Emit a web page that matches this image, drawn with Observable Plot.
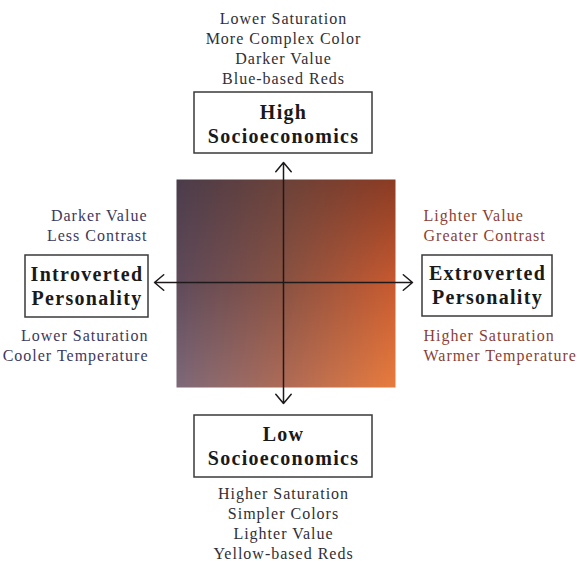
<!DOCTYPE html>
<html>
<head>
<meta charset="utf-8">
<script src="https://cdn.jsdelivr.net/npm/d3@7"></script>
<script src="https://cdn.jsdelivr.net/npm/@observablehq/plot@0.6"></script>
<style>
  html, body { margin: 0; padding: 0; background: #fff; }
  #chart svg { display: block; }
  #chart g[font-weight="bold"] text { letter-spacing: 1.3px; }
  #chart g[font-size="16"] text { letter-spacing: 1px; }
</style>
</head>
<body>
<div id="chart"></div>
<script>
// ---- data ----
const topLines = ["Lower Saturation", "More Complex Color", "Darker Value", "Blue-based Reds"];
const bottomLines = ["Higher Saturation", "Simpler Colors", "Lighter Value", "Yellow-based Reds"];
const leftUpper = ["Darker Value", "Less Contrast"];
const leftLower = ["Lower Saturation", "Cooler Temperature"];
const rightUpper = ["Lighter Value", "Greater Contrast"];
const rightLower = ["Higher Saturation", "Warmer Temperature"];
const boxLabels = ["High\nSocioeconomics", "Low\nSocioeconomics", "Introverted\nPersonality", "Extroverted\nPersonality"];
const directions = ["up", "down", "left", "right"];

// ---- layout (diagram canvas in pixel-like units) ----
const W = 577, H = 561;
const cx = 283, cy = 282;
const sq = {x1: 176, x2: 395, y1: 179, y2: 387};
const tips = {up: [cx, 162], down: [cx, 403], left: [154, cy], right: [412, cy]};
const boxes = [
  {x1: 194, x2: 372, y1: 92, y2: 153, dy: 0},
  {x1: 194, x2: 372, y1: 415, y2: 477, dy: -1},
  {x1: 25, x2: 148, y1: 255, y2: 317, dy: -1.5},
  {x1: 422, x2: 552, y1: 255, y2: 316, dy: -1.5}
];
// gradient colour grid (style): rows top→bottom, columns left→right
const grid = [
  ["#4b3c4b", "#6c4239", "#8c3b23"],
  ["#5f4b5b", "#8a5242", "#c85a30"],
  ["#7d6979", "#b06b56", "#e87c3e"]
];
const mix = d3.interpolateRgb;
const clamp = t => Math.max(0, Math.min(1, t));
const sampleRow = (row, u) => u < 0.5 ? mix(row[0], row[1])(u * 2) : mix(row[1], row[2])((u - 0.5) * 2);
const gradFill = (x, y) => {
  const u = clamp((x - sq.x1) / (sq.x2 - sq.x1));
  const v = clamp((y - sq.y1) / (sq.y2 - sq.y1));
  const cols = grid.map(r => sampleRow(r, u));
  return v < 0.5 ? mix(cols[0], cols[1])(v * 2) : mix(cols[1], cols[2])((v - 0.5) * 2);
};

const serif = "Liberation Serif";
const boxData = boxLabels.map((t, i) => ({...boxes[i], text: t}));
const arrowData = directions.map(d => ({d, x2: tips[d][0], y2: tips[d][1]}));

const note = (lines, x, y0, anchor, fill) =>
  Plot.text(lines, {x, y: (d, i) => y0 + i * 20, text: d => d, textAnchor: anchor, fontSize: 16, fill});

const plot = Plot.plot({
  width: W, height: H,
  margin: 0,
  x: {domain: [0, W], axis: null},
  y: {domain: [0, H], reverse: true, axis: null},
  color: {type: "identity"},
  style: {fontFamily: serif, background: "#fff"},
  marks: [
    Plot.raster({x1: sq.x1, x2: sq.x2, y1: sq.y1, y2: sq.y2, fill: gradFill, pixelSize: 1, imageRendering: "auto"}),
    Plot.arrow(arrowData, {x1: cx, y1: cy, x2: "x2", y2: "y2", stroke: "#1e1a1c", strokeWidth: 1.5, headLength: 12, headAngle: 80}),
    Plot.rect(boxData, {x1: "x1", x2: "x2", y1: "y1", y2: "y2", fill: "#fff", stroke: "#3a3a3a", strokeWidth: 1.5}),
    Plot.text(boxData, {x: d => (d.x1 + d.x2) / 2, y: d => (d.y1 + d.y2) / 2 + d.dy, text: "text", lineHeight: 1.2, textAnchor: "middle", lineAnchor: "middle", fontSize: 20, fontWeight: "bold", fill: "#1a1a1a"}),
    note(topLines, cx, 18, "middle", "#2f2f37"),
    note(bottomLines, cx, 493, "middle", "#2f2f37"),
    note(leftUpper, 147, 215, "end", "#3b3a5e"),
    note(leftLower, 148, 335, "end", "#3b3a5e"),
    note(rightUpper, 423, 215, "start", "#8a3f36"),
    note(rightLower, 423, 335, "start", "#8a3f36")
  ]
});
document.getElementById("chart").appendChild(plot);
</script>
</body>
</html>
